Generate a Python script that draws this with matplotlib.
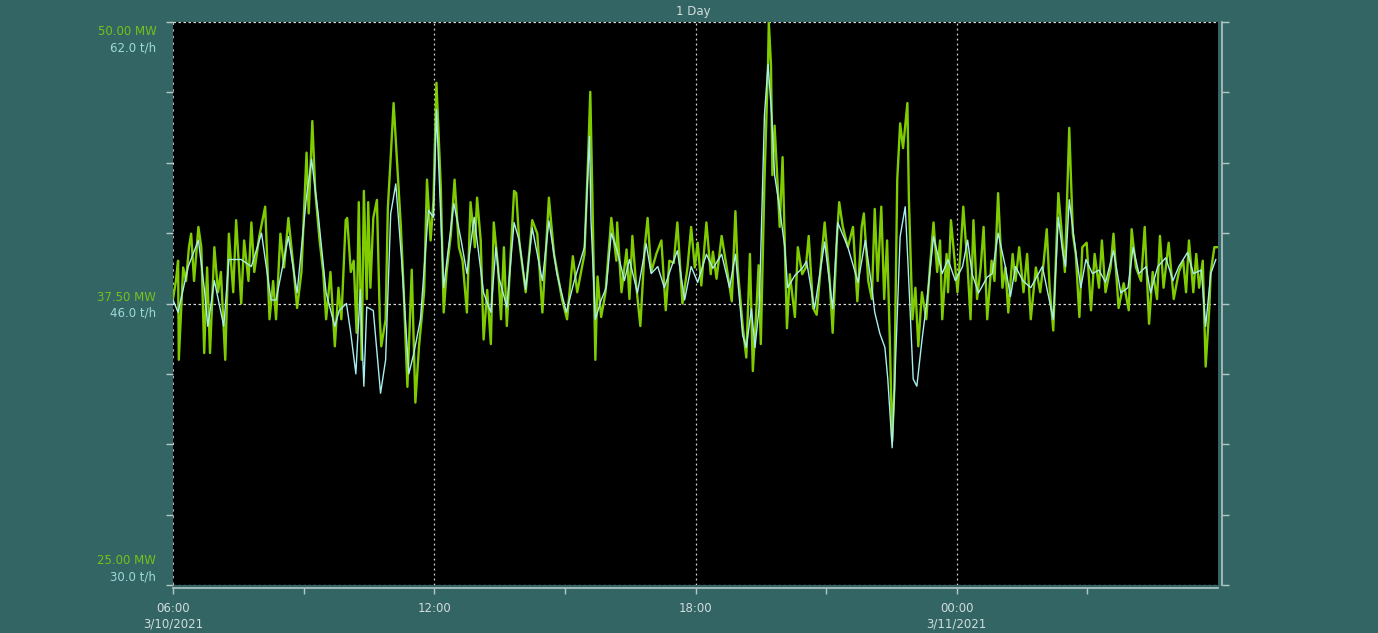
import numpy as np
import matplotlib
matplotlib.use("Agg")
import matplotlib.pyplot as plt

# Minutes after 06:00 on 3/10/2021, and power output (MW)
mw_minutes = [
    0, 4, 7, 8, 14, 18, 22, 25, 29, 35, 39, 43, 47, 51, 57, 62, 66, 72, 77, 83,
    87, 94, 98, 104, 108, 112, 119, 127, 133, 138, 142, 148, 153, 159, 166, 171, 177, 184, 187, 192,
    196, 202, 207, 211, 217, 223, 228, 232, 238, 240, 245, 249, 253, 256, 260, 263, 267, 269, 272, 276,
    281, 285, 287, 293, 296, 300, 304, 308, 314, 318, 323, 329, 334, 339, 346, 350, 355, 359, 363, 369,
    373, 377, 383, 388, 394, 399, 405, 410, 416, 419, 424, 428, 433, 438, 442, 448, 452, 456, 460, 470,
    473, 477, 486, 495, 502, 509, 518, 525, 536, 543, 551, 557, 567, 572, 575, 578, 582, 585, 590, 596,
    604, 611, 612, 618, 625, 629, 633, 638, 644, 650, 654, 659, 666, 673, 679, 684, 690, 695, 702, 709,
    714, 719, 723, 728, 735, 741, 744, 749, 756, 763, 770, 775, 778, 785, 790, 795, 799, 804, 807, 810,
    815, 820, 821, 824, 826, 829, 833, 836, 840, 843, 846, 850, 857, 861, 867, 872, 876, 882, 887, 894,
    898, 905, 909, 915, 918, 923, 930, 937, 943, 949, 952, 958, 963, 967, 971, 976, 980, 984, 988, 991,
    994, 998, 1002, 1006, 1012, 1014, 1019, 1023, 1027, 1032, 1038, 1043, 1048, 1053, 1057, 1060, 1066, 1068, 1072, 1077,
    1081, 1085, 1089, 1095, 1099, 1103, 1108, 1113, 1117, 1122, 1128, 1132, 1137, 1143, 1147, 1151, 1157, 1161, 1166, 1172,
    1177, 1182, 1189, 1195, 1200, 1204, 1208, 1213, 1220, 1224, 1229, 1235, 1240, 1244, 1249, 1253, 1259, 1265, 1270, 1276,
    1280, 1285, 1292, 1296, 1303, 1310, 1317, 1321, 1327, 1334, 1339, 1345, 1350, 1356, 1360, 1365, 1372, 1379, 1386, 1392,
    1396, 1400, 1406, 1410, 1414, 1419, 1423, 1428, 1430, 1435, 1440,
]
mw_values = [
    37.7, 38.5, 39.4, 35.0, 39.1, 38.5, 40.0, 40.6, 38.5, 40.9, 40.0, 35.3, 39.1, 35.3, 40.0, 38.0, 38.9, 35.0, 40.6, 38.0,
    41.2, 37.5, 40.3, 38.5, 41.1, 38.9, 40.5, 41.8, 36.8, 38.5, 36.8, 40.6, 39.1, 41.3, 39.1, 37.3, 38.9, 44.2, 41.5, 45.6,
    42.5, 40.3, 38.9, 36.8, 38.9, 35.6, 38.2, 36.8, 41.2, 41.3, 38.9, 39.4, 36.2, 42.0, 35.0, 42.5, 37.7, 42.0, 38.2, 41.3,
    42.1, 36.8, 35.6, 36.8, 41.7, 44.0, 46.4, 44.2, 40.9, 38.0, 33.8, 39.0, 33.1, 35.6, 38.0, 43.0, 40.3, 42.1, 47.3, 42.7,
    37.1, 38.9, 40.6, 43.0, 40.0, 39.4, 37.1, 42.0, 40.0, 42.2, 40.3, 35.9, 38.1, 35.7, 41.1, 39.1, 36.8, 40.0, 36.5, 42.5,
    42.4, 40.3, 38.0, 41.2, 40.6, 37.1, 42.2, 39.7, 37.7, 36.8, 39.6, 38.0, 39.7, 43.9, 46.9, 42.1, 35.0, 38.7, 36.9, 38.0,
    41.3, 39.4, 41.1, 38.0, 39.9, 37.7, 40.5, 38.4, 36.5, 40.0, 41.3, 38.9, 39.7, 40.3, 37.2, 39.4, 39.3, 41.1, 37.5, 39.1,
    40.9, 39.1, 40.2, 38.3, 41.1, 38.8, 39.8, 38.6, 40.5, 39.1, 37.6, 41.6, 39.1, 36.5, 35.1, 39.7, 34.5, 37.3, 39.2, 35.7,
    42.9, 48.2, 50.0, 48.1, 43.2, 45.4, 42.9, 40.9, 44.0, 40.2, 36.4, 38.8, 36.9, 40.0, 38.8, 39.1, 40.5, 37.3, 37.0, 39.7,
    41.1, 38.5, 36.2, 40.5, 42.0, 40.9, 40.0, 40.9, 37.6, 40.9, 41.5, 38.5, 37.7, 41.7, 38.5, 41.8, 37.7, 40.3, 35.6, 31.4,
    33.7, 43.0, 45.5, 44.4, 46.4, 42.2, 36.8, 38.2, 35.6, 38.0, 36.8, 39.1, 41.1, 38.9, 40.3, 36.8, 39.7, 38.0, 41.2, 39.4,
    38.0, 39.7, 41.8, 39.1, 36.8, 41.2, 37.7, 39.1, 40.9, 36.8, 39.4, 38.5, 42.4, 38.2, 39.1, 37.1, 39.7, 38.5, 40.0, 38.0,
    39.7, 36.8, 39.1, 38.0, 39.4, 40.8, 38.2, 36.3, 42.4, 40.9, 38.9, 45.3, 40.6, 39.7, 36.9, 40.0, 40.2, 37.2, 39.7, 38.2,
    40.3, 38.0, 39.1, 40.6, 37.3, 38.4, 37.2, 40.8, 39.1, 38.5, 40.9, 36.6, 38.9, 37.7, 40.5, 38.2, 40.2, 37.7, 38.9, 39.4,
    38.0, 40.3, 38.0, 39.7, 38.2, 39.4, 34.7, 37.3, 38.9, 40.0, 40.0,
]

# Minutes after 06:00, and steam flow (t/h)
th_minutes = [
    0, 7, 21, 35, 43, 48, 57, 70, 77, 94, 108, 122, 135, 142, 159, 171, 184, 191, 200, 211,
    223, 229, 239, 245, 252, 258, 263, 267, 276, 286, 293, 300, 307, 315, 325, 332, 341, 352, 359, 363,
    373, 387, 397, 405, 415, 428, 438, 445, 449, 460, 470, 477, 486, 495, 509, 518, 529, 542, 553, 567,
    574, 576, 582, 590, 597, 604, 612, 622, 629, 640, 652, 659, 668, 677, 687, 695, 705, 714, 723, 735,
    744, 756, 767, 775, 785, 790, 797, 802, 808, 815, 820, 825, 829, 836, 843, 847, 857, 867, 873, 884,
    898, 909, 916, 930, 944, 954, 963, 967, 974, 981, 985, 991, 995, 1002, 1009, 1013, 1020, 1025, 1032, 1039,
    1048, 1060, 1068, 1078, 1088, 1095, 1101, 1110, 1122, 1129, 1137, 1147, 1154, 1161, 1171, 1182, 1198, 1213, 1220, 1226,
    1230, 1235, 1244, 1251, 1258, 1267, 1276, 1285, 1296, 1306, 1316, 1323, 1331, 1341, 1347, 1357, 1368, 1378, 1386, 1398,
    1406, 1417, 1423, 1430, 1437,
]
th_values = [
    46.2, 45.5, 48.1, 49.6, 46.9, 44.7, 47.3, 44.7, 48.5, 48.5, 48.1, 50.0, 46.2, 46.2, 49.8, 46.6, 52.1, 54.2, 51.1, 46.6,
    44.7, 45.6, 46.0, 44.3, 42.0, 46.8, 41.3, 45.8, 45.6, 40.9, 42.8, 51.1, 52.8, 48.5, 42.0, 43.2, 45.1, 51.3, 50.9, 57.0,
    46.9, 51.7, 49.6, 47.7, 50.9, 46.6, 45.5, 49.2, 47.5, 45.8, 50.6, 49.6, 46.8, 50.3, 47.3, 50.7, 47.7, 45.5, 47.3, 49.2,
    55.5, 50.7, 45.1, 46.2, 46.9, 50.0, 49.0, 47.3, 48.5, 46.6, 49.4, 47.7, 48.1, 46.9, 48.1, 49.0, 46.2, 48.1, 47.2, 48.8,
    48.0, 48.8, 46.9, 48.8, 44.2, 43.5, 45.7, 43.5, 45.9, 56.7, 59.6, 56.7, 53.3, 51.4, 49.2, 46.9, 47.6, 48.0, 48.4, 45.7,
    49.5, 45.7, 50.6, 49.2, 47.2, 49.6, 46.9, 45.5, 44.3, 43.5, 41.7, 37.8, 42.0, 49.8, 51.5, 48.1, 41.7, 41.3, 43.9, 46.2,
    49.8, 47.7, 48.5, 47.3, 48.1, 49.6, 47.7, 46.6, 47.5, 47.7, 50.0, 48.1, 46.4, 48.1, 47.3, 46.9, 48.1, 45.1, 50.9, 48.9,
    48.1, 51.9, 48.9, 46.9, 48.5, 47.7, 47.9, 47.2, 49.0, 46.6, 46.9, 49.2, 47.7, 48.1, 46.6, 48.1, 48.6, 47.3, 48.1, 48.9,
    47.7, 47.9, 44.7, 47.7, 48.5,
]

tick_minutes = [0, 360, 720, 1080]
tick_labels = ["06:00\n3/10/2021", "12:00", "18:00", "00:00\n3/11/2021"]

bg = "#336565"
green = "#80cc00"
cyan = "#a8eeee"
text_gray = "#d2dcdc"
axis_gray = "#b4c6c6"

fig = plt.figure(figsize=(13.78, 6.33), dpi=100, facecolor=bg)
ax = fig.add_axes([173 / 1378, 1 - 585 / 633, 1045 / 1378, 563 / 633])
ax.set_facecolor("black")
ax.set_xlim(0, 1440)
ax.set_ylim(25, 50)

# grid and frame lines (dotted, white)
for m in [360, 720, 1080]:
    ax.axvline(m, color="white", ls=(0, (1.5, 2.5)), lw=0.9, alpha=0.85)
ax.axvline(0, color="white", ls=(0, (1.5, 2.5)), lw=1.2, alpha=0.85)
for v in [25, 37.5, 50]:
    ax.axhline(v, color="white", ls=(0, (2, 2)), lw=0.9, alpha=0.85)

ax.plot(mw_minutes, mw_values, color=green, lw=1.7)

ax2 = ax.twinx()
ax2.set_ylim(30, 62)
ax2.plot(th_minutes, th_values, color=cyan, lw=1.0)
ax2.set_yticks([])
for s in ax2.spines.values():
    s.set_visible(False)

for s in ["left", "top"]:
    ax.spines[s].set_visible(False)
ax.spines["right"].set_color(axis_gray)
ax.spines["right"].set_position(("outward", 3))
ax.spines["right"].set_linewidth(1.2)
ax.spines["bottom"].set_color(axis_gray)
ax.spines["bottom"].set_position(("outward", 2))
ax.spines["bottom"].set_linewidth(1.2)

ax.set_yticks(np.linspace(25, 50, 9))
ax.set_yticklabels([])
ax.tick_params(axis="y", left=True, right=True, length=5, width=1,
               color=axis_gray, direction="out")
ax.set_xticks(tick_minutes)
ax.set_xticklabels(tick_labels, color=text_gray, fontsize=8.5, linespacing=1.25)
ax.set_xticks([180, 540, 900, 1260], minor=True)
ax.tick_params(axis="x", which="both", length=4, width=1, color=axis_gray,
               direction="out", pad=6)

# paired value labels on the left
pairs = [(50, "50.00 MW", "62.0 t/h", -7, -19), (37.5, "37.50 MW", "46.0 t/h", 4, -7),
         (25, "25.00 MW", "30.0 t/h", 18, 6)]
for v, a, b, dy1, dy2 in pairs:
    ax.annotate(a, xy=(0, v), xycoords=("axes fraction", "data"), xytext=(-12, dy1),
                textcoords="offset points", ha="right", va="center",
                color="#74c21a", fontsize=8.5)
    ax.annotate(b, xy=(0, v), xycoords=("axes fraction", "data"), xytext=(-12, dy2),
                textcoords="offset points", ha="right", va="center",
                color="#9cdada", fontsize=8.5)

fig.text(693 / 1378, 1 - 11 / 633, "1 Day", color=text_gray, fontsize=8.5,
         ha="center", va="center")

fig.savefig("out.png", dpi=100, facecolor=bg)
